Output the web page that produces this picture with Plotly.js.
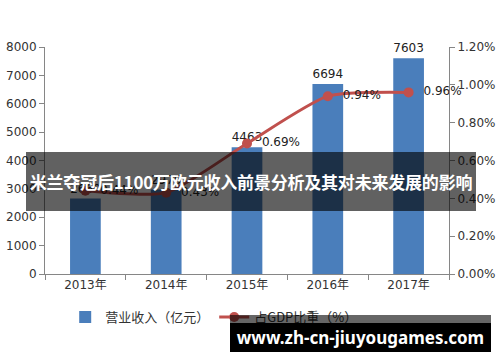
<!DOCTYPE html>
<html>
<head>
<meta charset="utf-8">
<script src="https://cdn.plot.ly/plotly-3.0.1.min.js"></script>
<style>
  html, body { margin: 0; padding: 0; background: #ffffff; }
  #wrap { position: relative; width: 500px; height: 362px; overflow: hidden; }
  #chart { position: absolute; left: 0; top: 0; width: 500px; height: 362px; }
  #band { position: absolute; left: 26px; top: 152px; width: 450px; height: 59px;
          background: rgba(0,0,0,0.62); color: #ffffff; font-family: "Noto Sans CJK SC", "Noto Sans", sans-serif;
          font-weight: bold; font-size: 17px; line-height: 59px; text-align: center; white-space: nowrap; letter-spacing: -0.2px; }
  #banner-top { position: absolute; left: 230px; top: 315px; width: 261px; height: 8px; background: rgba(0,0,0,0.6); }
  #banner { position: absolute; left: 230px; top: 323px; width: 261px; height: 29px; background: #000000;
            color: #ffffff; font-family: "Noto Sans", "DejaVu Sans", sans-serif; font-weight: bold; font-size: 17px;
            line-height: 29px; text-align: center; white-space: nowrap; }
</style>
</head>
<body>
<div id="wrap">
  <div id="chart"></div>
  <div id="band">米兰夺冠后1100万欧元收入前景分析及其对未来发展的影响</div>
  <div id="banner-top"></div>
  <div id="banner">www.zh-cn-jiuyougames.com</div>
</div>
<script>
var years = ["2013年", "2014年", "2015年", "2016年", "2017年"];
var revenue = [2660, 2975, 4463, 6694, 7603];
var gdpShare = [0.44, 0.43, 0.69, 0.94, 0.96];
var revenueName = "营业收入（亿元）";
var shareName = "占GDP比重（%）";

var barTrace = {
  type: "bar", x: years, y: revenue, name: revenueName,
  marker: { color: "#4a7ebb" },
  text: revenue.map(String), textposition: "outside", cliponaxis: false,
  textfont: { family: "DejaVu Sans, sans-serif", size: 12, color: "#222222" },
  hoverinfo: "none"
};
var lineTrace = {
  type: "scatter", mode: "lines+markers+text", x: years, y: gdpShare, yaxis: "y2", name: shareName,
  line: { color: "#c0504d", width: 3, shape: "spline", smoothing: 0.6 },
  marker: { color: "#c0504d", size: 10, symbol: "circle" },
  text: gdpShare.map(function (v) { return "  " + v.toFixed(2) + "%"; }),
  textposition: "middle right", cliponaxis: false,
  textfont: { family: "DejaVu Sans, sans-serif", size: 12, color: "#222222" },
  hoverinfo: "none"
};

var layout = {
  width: 500, height: 362,
  margin: { l: 45, r: 51, t: 47, b: 88 },
  paper_bgcolor: "#ffffff", plot_bgcolor: "rgba(0,0,0,0)",
  showlegend: true,
  bargap: 0.62,
  font: { family: "DejaVu Sans, Noto Sans CJK SC, sans-serif", size: 12, color: "#333333" },
  xaxis: {
    showline: true, linecolor: "#868686", linewidth: 1,
    ticks: "outside", tickson: "boundaries", ticklen: 5, tickcolor: "#868686",
    tickfont: { family: "DejaVu Sans, Noto Sans CJK SC, sans-serif", size: 12, color: "#333333" },
    showgrid: false, zeroline: false
  },
  yaxis: {
    range: [0, 8000], dtick: 1000, showline: true, linecolor: "#868686", linewidth: 1,
    ticks: "outside", ticklen: 5, tickcolor: "#868686", showgrid: false, zeroline: false,
    tickfont: { family: "DejaVu Sans, sans-serif", size: 12, color: "#333333" }
  },
  yaxis2: {
    range: [0, 1.2], dtick: 0.2, tickformat: ".2f", ticksuffix: "%",
    overlaying: "y", side: "right", showline: true, linecolor: "#868686", linewidth: 1,
    ticks: "outside", ticklen: 5, tickcolor: "#868686", showgrid: false, zeroline: false,
    tickfont: { family: "DejaVu Sans, sans-serif", size: 12, color: "#333333" }
  },
  legend: {
    orientation: "h", x: 0.05, xanchor: "left", y: -0.19, yanchor: "middle",
    font: { family: "Noto Sans CJK SC, sans-serif", size: 13, color: "#333333" },
    bgcolor: "rgba(0,0,0,0)", traceorder: "normal"
  }
};

Plotly.newPlot("chart", [barTrace, lineTrace], layout, { staticPlot: true, displayModeBar: false });
</script>
</body>
</html>
